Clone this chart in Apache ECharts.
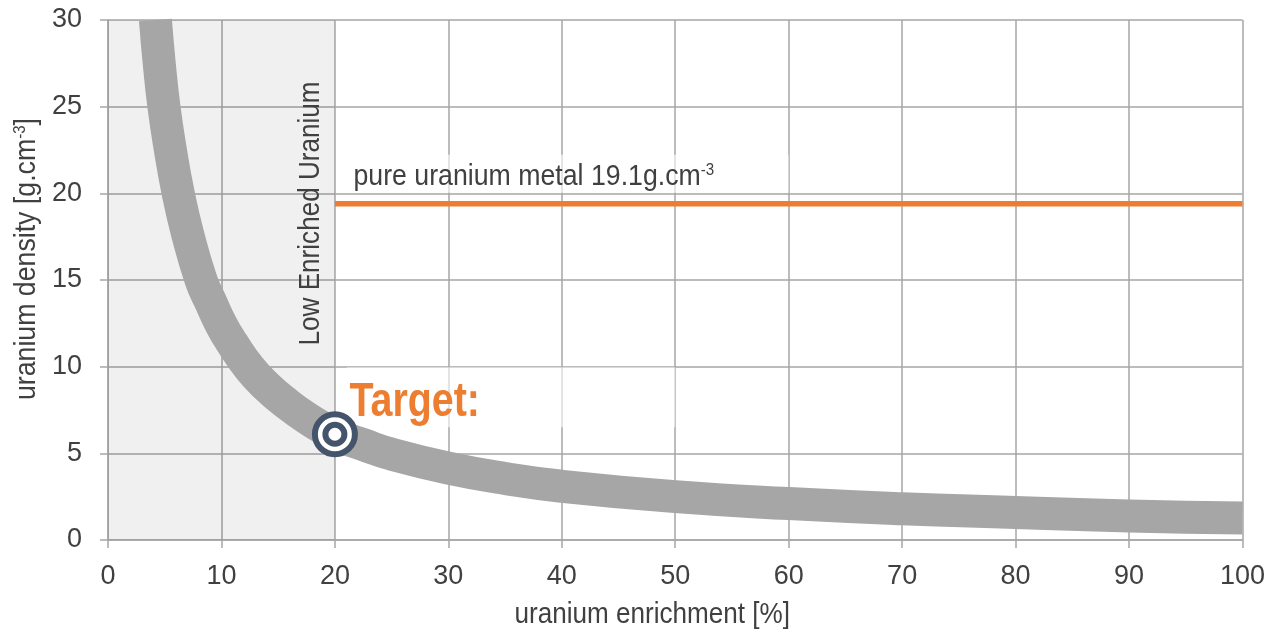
<!DOCTYPE html>
<html>
<head>
<meta charset="utf-8">
<script src="https://cdn.jsdelivr.net/npm/echarts@6/dist/echarts.min.js"></script>
<style>
html,body{margin:0;padding:0;background:#fff;}
#chart{width:1268px;height:632px;}
</style>
</head>
<body>
<div id="chart"></div>
<script>
// ---- data ----
const xTicks = [0, 10, 20, 30, 40, 50, 60, 70, 80, 90, 100];
const yTicks = [0, 5, 10, 15, 20, 25, 30];
const curveX = [4.18, 4.5, 4.93, 5.5, 6.19, 7, 8.2, 9, 10, 11, 12.5, 14, 15.5, 17.5, 20, 22.5, 25, 30, 35, 40, 50, 60, 70, 80, 90, 100];
const curveY = [30, 27.6, 25, 22.5, 20, 17.7, 15, 13.8, 12.4, 11.3, 9.9, 8.85, 8.0, 7.05, 6.1, 5.5, 4.95, 4.15, 3.55, 3.1, 2.5, 2.1, 1.8, 1.59, 1.38, 1.27];
const metalX = [20, 100];
const metalY = [19.4, 19.4];
const leuRange = [0, 20];
const targetX = [20];
const targetY = [6.1];
const xTitle = 'uranium enrichment [%]';
const yTitle = '{a|uranium density [g.cm}{sup|-3}{a|]}';
const metalLabel = '{a|pure uranium metal 19.1g.cm}{sup|-3}';
const leuLabel = 'Low Enriched Uranium';
const targetLabel = 'Target:';

const FONT = "'Liberation Sans', Arial, sans-serif";
const TXT = '#404040';
const GRID = '#a6a6a6';
const ORANGE = '#ed7d31';
const NAVY = '#44546a';
const SX = 0.87; // condensed look of the original lettering

const chart = echarts.init(document.getElementById('chart'), null, {renderer: 'canvas'});

const zip = (xs, ys) => xs.map((x, i) => [x, ys[i]]);

const option = {
  animation: false,
  backgroundColor: '#ffffff',
  grid: {left: 108, right: 23, top: 20, bottom: 92, containLabel: false},
  xAxis: {
    type: 'value', min: xTicks[0], max: xTicks[xTicks.length - 1], interval: 10,
    axisLine: {show: true, lineStyle: {color: GRID, width: 1.5}},
    axisTick: {show: true, length: 8, inside: false, lineStyle: {color: GRID, width: 1.5}},
    splitLine: {show: true, lineStyle: {color: GRID, width: 1.5}},
    axisLabel: {fontSize: 27, color: TXT, fontFamily: FONT, margin: 23}
  },
  yAxis: {
    type: 'value', min: yTicks[0], max: yTicks[yTicks.length - 1], interval: 5,
    axisLine: {show: true, lineStyle: {color: GRID, width: 1.5}},
    axisTick: {show: true, length: 8, inside: false, lineStyle: {color: GRID, width: 1.5}},
    splitLine: {show: true, lineStyle: {color: GRID, width: 1.5}},
    axisLabel: {fontSize: 27, color: TXT, fontFamily: FONT, margin: 26}
  },
  series: [
    {
      name: 'LEU', type: 'line', data: [], silent: true,
      markArea: {
        silent: true,
        itemStyle: {color: 'rgba(0,0,0,0.06)'},
        data: [[{xAxis: leuRange[0]}, {xAxis: leuRange[1]}]]
      }
    },
    {
      name: 'density', type: 'line', data: zip(curveX, curveY),
      smooth: 0.5, showSymbol: false, symbol: 'none',
      lineStyle: {color: '#a6a6a6', width: 33, cap: 'butt', join: 'round'}, z: 3
    },
    {
      name: 'metal', type: 'line', data: zip(metalX, metalY),
      showSymbol: false, symbol: 'none',
      lineStyle: {color: ORANGE, width: 5.5, cap: 'butt'}, z: 3
    },
    {
      name: 'targetOuter', type: 'scatter', data: zip(targetX, targetY),
      symbol: 'circle', symbolSize: 40,
      itemStyle: {color: '#ffffff', borderColor: NAVY, borderWidth: 6, opacity: 1}, z: 5
    },
    {
      name: 'targetInner', type: 'scatter', data: zip(targetX, targetY),
      symbol: 'circle', symbolSize: 19,
      itemStyle: {color: '#ffffff', borderColor: NAVY, borderWidth: 6, opacity: 1}, z: 6
    }
  ]
};
chart.setOption(option);

const px = (x, y) => chart.convertToPixel({gridIndex: 0}, [x, y]);
const o = px(0, 0), e = px(100, 30);
const metalP = px(metalX[0], metalY[0]);
const tP = px(targetX[0], targetY[0]);
const leuP = px(leuRange[1], 18.84);

const richStyle = {
  a: {fontSize: 30, fontFamily: FONT, fill: TXT},
  sup: {fontSize: 17, fontFamily: FONT, fill: TXT, verticalAlign: 'top', lineHeight: 21}
};

chart.setOption({
  graphic: [
    // faint white backing boxes behind annotations
    {type: 'rect', z: 1, silent: true,
     shape: {x: metalP[0] + 10, y: metalP[1] - 49, width: px(60, 0)[0] - metalP[0] - 10, height: 38},
     style: {fill: 'rgba(255,255,255,0.6)'}},
    {type: 'rect', z: 1, silent: true,
     shape: {x: tP[0] + 12, y: tP[1] - 67, width: px(50, 0)[0] - tP[0] - 12, height: 60},
     style: {fill: 'rgba(255,255,255,0.6)'}},
    {type: 'text', z: 10, silent: true, x: metalP[0] + 18.6, y: metalP[1] - 27, scaleX: 0.89,
     style: {text: metalLabel, align: 'left', verticalAlign: 'middle', rich: richStyle}},
    {type: 'text', z: 10, silent: true, x: leuP[0] - 24, y: leuP[1], rotation: Math.PI / 2, scaleX: SX,
     style: {text: leuLabel, align: 'center', verticalAlign: 'middle', fontSize: 30, fontFamily: FONT, fill: TXT}},
    {type: 'text', z: 10, silent: true, x: tP[0] + 14.5, y: tP[1] - 32, scaleX: 0.82,
     style: {text: targetLabel, align: 'left', verticalAlign: 'middle', fontSize: 48, fontWeight: 'bold', fontFamily: FONT, fill: ORANGE}},
    {type: 'text', z: 10, silent: true, x: (o[0] + e[0]) / 2 - 23, y: o[1] + 75, scaleX: SX,
     style: {text: xTitle, align: 'center', verticalAlign: 'middle', fontSize: 30, fontFamily: FONT, fill: TXT}},
    {type: 'text', z: 10, silent: true, x: 27, y: (o[1] + e[1]) / 2 - 21, rotation: Math.PI / 2, scaleX: 0.89,
     style: {text: yTitle, align: 'center', verticalAlign: 'middle', rich: richStyle}}
  ]
});
</script>
</body>
</html>
